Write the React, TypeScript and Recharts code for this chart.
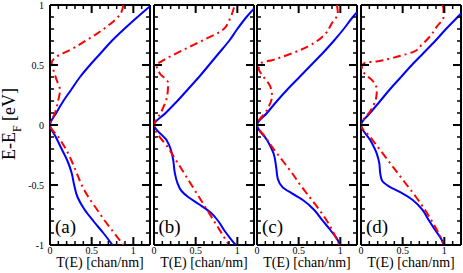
import React from 'react';
import { ScatterChart, Scatter, XAxis, YAxis } from 'recharts';

// each point is [E - E_F (eV), T(E) (chan/nm)], ordered from E = 1 down to E = -1
type Pt = [number, number];

const panelNames = ['(a)', '(b)', '(c)', '(d)'];
const tTicks = [0, 0.1, 0.2, 0.3, 0.4, 0.5, 0.6, 0.7, 0.8, 0.9, 1, 1.1];
const eTicks = [1, 0.9, 0.8, 0.7, 0.6, 0.5, 0.4, 0.3, 0.2, 0.1, 0, -0.1, -0.2, -0.3, -0.4, -0.5, -0.6, -0.7, -0.8, -0.9, -1];

const blueA: Pt[] = [
  [0.99, 1.2], [0.9, 1.05], [0.8, 0.89], [0.7, 0.74], [0.6, 0.61], [0.5, 0.48], [0.4, 0.36],
  [0.3, 0.26], [0.2, 0.16], [0.1, 0.075], [0, 0],
  [-0.1, 0.07], [-0.2, 0.14], [-0.3, 0.21], [-0.4, 0.26], [-0.5, 0.29], [-0.6, 0.33],
  [-0.7, 0.41], [-0.8, 0.52], [-0.9, 0.64], [-1, 0.75],
];
const redA: Pt[] = [
  [1, 0.88], [0.92, 0.84], [0.84, 0.72], [0.76, 0.56], [0.69, 0.4], [0.625, 0.24], [0.57, 0.08],
  [0.52, 0.02], [0.46, 0.04], [0.375, 0.08], [0.29, 0.12], [0.21, 0.1], [0.1, 0.06], [0, 0],
  [-0.1, 0.1], [-0.2, 0.19], [-0.3, 0.26], [-0.4, 0.32], [-0.5, 0.38], [-0.6, 0.46],
  [-0.7, 0.56], [-0.8, 0.66], [-0.9, 0.77], [-1, 0.88],
];

const blueB: Pt[] = [
  [0.97, 1.2], [0.9, 1.11], [0.8, 1.0], [0.7, 0.9], [0.6, 0.78], [0.5, 0.66], [0.4, 0.54],
  [0.3, 0.41], [0.2, 0.28], [0.1, 0.14], [0, 0],
  [-0.125, 0.15], [-0.2, 0.2], [-0.29, 0.23], [-0.4, 0.25], [-0.48, 0.28], [-0.55, 0.33],
  [-0.6, 0.41], [-0.66, 0.54], [-0.73, 0.68], [-0.8, 0.77], [-0.875, 0.84], [-0.94, 0.91], [-1, 0.98],
];
const redB: Pt[] = [
  [0.98, 0.96], [0.9, 0.92], [0.79, 0.82], [0.71, 0.6], [0.625, 0.35], [0.53, 0.09], [0.5, 0.03],
  [0.43, 0.07], [0.35, 0.17], [0.25, 0.16], [0.1, 0.08], [0, 0],
  [-0.2, 0.18], [-0.4, 0.36], [-0.6, 0.54], [-0.8, 0.72], [-1, 0.9],
];

const blueC: Pt[] = [
  [0.94, 1.2], [0.9, 1.15], [0.8, 1.04], [0.7, 0.92], [0.6, 0.79], [0.5, 0.65], [0.4, 0.51],
  [0.3, 0.37], [0.2, 0.24], [0.1, 0.12], [0, 0],
  [-0.125, 0.12], [-0.24, 0.2], [-0.35, 0.23], [-0.45, 0.25], [-0.52, 0.31], [-0.57, 0.42],
  [-0.625, 0.55], [-0.71, 0.69], [-0.79, 0.78], [-0.875, 0.88], [-0.96, 0.97], [-1, 0.99],
];
const redC: Pt[] = [
  [1, 0.96], [0.93, 0.97], [0.85, 0.9], [0.76, 0.82], [0.69, 0.7], [0.625, 0.52], [0.57, 0.31],
  [0.54, 0.18], [0.52, 0.06], [0.47, 0.02], [0.4, 0.08], [0.32, 0.16], [0.24, 0.18], [0.125, 0.12], [0, 0],
  [-0.1, 0.1], [-0.2, 0.2], [-0.3, 0.31], [-0.4, 0.42], [-0.5, 0.52], [-0.6, 0.63],
  [-0.7, 0.74], [-0.8, 0.84], [-0.9, 0.92], [-1, 0.99],
];

const blueD: Pt[] = [
  [0.93, 1.2], [0.9, 1.16], [0.8, 1.02], [0.7, 0.89], [0.6, 0.75], [0.5, 0.61], [0.4, 0.48],
  [0.3, 0.35], [0.2, 0.23], [0.1, 0.11], [0, 0],
  [-0.125, 0.11], [-0.24, 0.19], [-0.32, 0.22], [-0.4, 0.23], [-0.46, 0.25], [-0.51, 0.33],
  [-0.56, 0.47], [-0.625, 0.62], [-0.71, 0.74], [-0.79, 0.81], [-0.875, 0.89], [-0.96, 0.97], [-1, 0.99],
];
const redD: Pt[] = [
  [1, 0.98], [0.96, 0.99], [0.9, 0.99], [0.82, 0.91], [0.74, 0.83], [0.67, 0.73], [0.61, 0.63],
  [0.58, 0.49], [0.55, 0.33], [0.53, 0.19], [0.52, 0.05], [0.49, 0.01], [0.44, 0.03], [0.4, 0.09],
  [0.36, 0.15], [0.29, 0.19], [0.22, 0.18], [0.125, 0.12], [0, 0],
  [-0.1, 0.11], [-0.2, 0.22], [-0.3, 0.33], [-0.4, 0.44], [-0.5, 0.55], [-0.6, 0.66],
  [-0.7, 0.76], [-0.8, 0.85], [-0.9, 0.93], [-1, 1.0],
];

const blueSeries = [blueA, blueB, blueC, blueD];
const redSeries = [redA, redB, redC, redD];

const SERIF = '"Liberation Serif", "DejaVu Serif", serif';
const plotLefts = [50, 153.5, 257, 361];
const PLOT_W = 100;
const TOP = 5;
const BOTTOM = 245;
const AX = 1; // thickness reserved for each axis strip

const isMajor = (v: number) => Math.abs(v * 2 - Math.round(v * 2)) < 1e-6;
const toRows = (pts: Pt[]) => pts.map(([e, t]) => ({ e, t }));
const noDot = () => <g />;
const txt = { fontFamily: SERIF };

// ticks point into the frame, labels sit outside
const BottomTick = (p: any) => {
  const { x, y, payload } = p;
  const m = isMajor(payload.value);
  return (
    <g>
      <line x1={x} x2={x} y1={y} y2={y - (m ? 8 : 4)} stroke="#000" strokeWidth={m ? 2 : 1.5} />
      {m && (
        <text x={x} y={y + 9} textAnchor="middle" fontSize={10} style={txt} fill="#000" stroke="none">
          {String(payload.value)}
        </text>
      )}
    </g>
  );
};

const TopTick = (p: any) => {
  const { x, y, payload } = p;
  const m = isMajor(payload.value);
  return <line x1={x} x2={x} y1={y} y2={y + (m ? 8 : 4)} stroke="#000" strokeWidth={m ? 2 : 1.5} />;
};

const LeftTick = (p: any) => {
  const { x, y, payload, showLabel } = p;
  const m = isMajor(payload.value);
  return (
    <g>
      <line x1={x} x2={x + (m ? 8 : 4)} y1={y} y2={y} stroke="#000" strokeWidth={m ? 2 : 1.5} />
      {m && showLabel && (
        <text x={x - 6} y={y + 3.5} textAnchor="end" fontSize={10} style={txt} fill="#000" stroke="none">
          {String(payload.value)}
        </text>
      )}
    </g>
  );
};

const RightTick = (p: any) => {
  const { x, y, payload } = p;
  const m = isMajor(payload.value);
  return <line x1={x} x2={x - (m ? 8 : 4)} y1={y} y2={y} stroke="#000" strokeWidth={m ? 2 : 1.5} />;
};

const Panel = ({ idx }: { idx: number }) => {
  const first = idx === 0;
  const ml = first ? plotLefts[0] : 6;
  const mr = 4;
  const axisLine = { stroke: '#000', strokeWidth: 2 };
  return (
    <div style={{ position: 'absolute', left: plotLefts[idx] - ml, top: 0 }}>
      <ScatterChart
        width={PLOT_W + ml + mr}
        height={273}
        margin={{ top: TOP - AX, bottom: 273 - BOTTOM - AX, left: ml - AX, right: mr - AX }}
      >
        <XAxis
          type="number"
          dataKey="t"
          domain={[0, 1.2]}
          allowDataOverflow
          ticks={tTicks}
          interval={0}
          height={AX}
          tickSize={0}
          tickMargin={0}
          tickLine={false}
          axisLine={axisLine}
          tick={<BottomTick />}
          label={{
            value: 'T(E) [chan/nm]',
            position: 'bottom',
            offset: 11,
            fontSize: 14,
            style: txt,
            fill: '#000',
          }}
        />
        <XAxis
          xAxisId="top"
          orientation="top"
          type="number"
          dataKey="t"
          domain={[0, 1.2]}
          allowDataOverflow
          ticks={tTicks}
          interval={0}
          height={AX}
          tickSize={0}
          tickMargin={0}
          tickLine={false}
          axisLine={axisLine}
          tick={<TopTick />}
        />
        <YAxis
          type="number"
          dataKey="e"
          domain={[-1, 1]}
          allowDataOverflow
          ticks={eTicks}
          interval={0}
          width={AX}
          tickSize={0}
          tickMargin={0}
          tickLine={false}
          axisLine={axisLine}
          tick={<LeftTick showLabel={first} />}
        />
        <YAxis
          yAxisId="right"
          orientation="right"
          type="number"
          dataKey="e"
          domain={[-1, 1]}
          allowDataOverflow
          ticks={eTicks}
          interval={0}
          width={AX}
          tickSize={0}
          tickMargin={0}
          tickLine={false}
          axisLine={axisLine}
          tick={<RightTick />}
        />
        <Scatter
          data={toRows(blueSeries[idx])}
          shape={noDot}
          line={{ stroke: '#0000ff', strokeWidth: 2 }}
          lineJointType="monotoneY"
          isAnimationActive={false}
        />
        <Scatter
          xAxisId="top"
          yAxisId="right"
          data={toRows(redSeries[idx])}
          shape={noDot}
          line={{ stroke: '#ff0000', strokeWidth: 2, strokeDasharray: '8 4 2 4' }}
          lineJointType="monotoneY"
          isAnimationActive={false}
        />
      </ScatterChart>
    </div>
  );
};

export default function App() {
  return (
    <div style={{ position: 'absolute', left: 0, top: 0, width: 463, height: 273, background: '#fff' }}>
      {panelNames.map((_, i) => (
        <Panel key={i} idx={i} />
      ))}
      <svg
        width={463}
        height={273}
        style={{ position: 'absolute', left: 0, top: 0, pointerEvents: 'none' }}
      >
        <text
          transform="translate(15,124) rotate(-90)"
          textAnchor="middle"
          fontSize={18}
          style={txt}
          fill="#000"
        >
          E-E<tspan dy={6} fontSize={12}>F</tspan>
          <tspan dy={-6}> [eV]</tspan>
        </text>
        {panelNames.map((name, i) => (
          <text key={name} x={plotLefts[i] + 5} y={233} fontSize={19} style={txt} fill="#000">
            {name}
          </text>
        ))}
      </svg>
    </div>
  );
}
